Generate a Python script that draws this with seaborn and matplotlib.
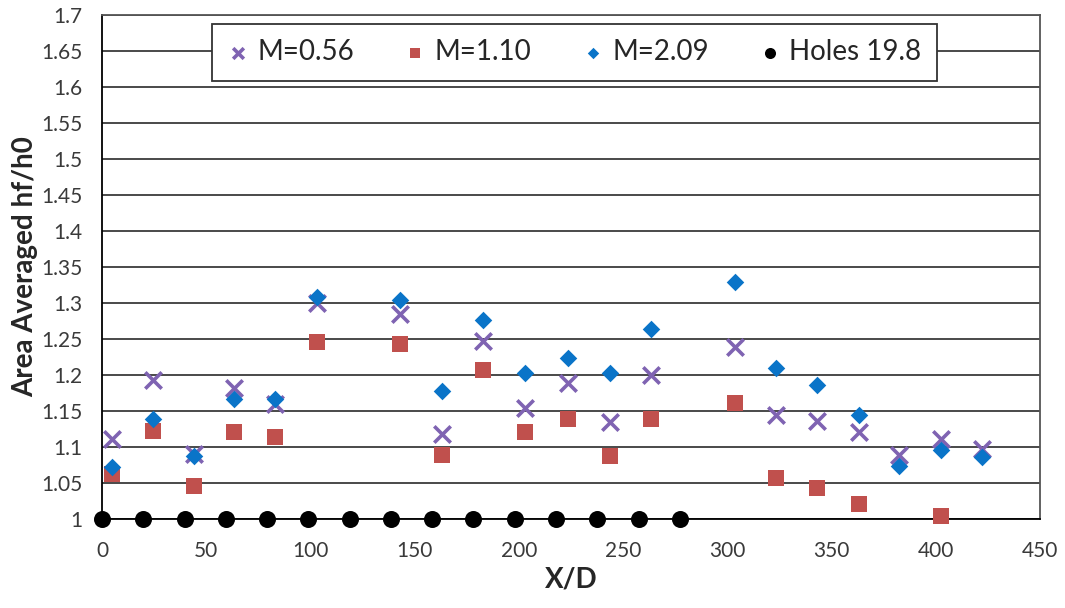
import matplotlib
matplotlib.use("Agg")
import matplotlib.pyplot as plt
import seaborn as sns
import pandas as pd

# Streamwise stations (X/D) of the measured rows
x_meas = [5, 24.6, 44, 63.5, 83, 103, 143, 163, 183, 203, 223.5, 243.5,
          263.5, 303.5, 323.5, 343, 363, 382.5, 402.5, 422]

# Area averaged hf/h0 for each blowing ratio (None where not measured)
m056 = [1.111, 1.192, 1.090, 1.182, 1.159, 1.300, 1.284, 1.118, 1.247, 1.154,
        1.189, 1.134, 1.199, 1.239, 1.144, 1.136, 1.120, 1.088, 1.111, 1.097]
m110 = [1.062, 1.122, 1.046, 1.121, 1.113, 1.245, 1.242, 1.089, 1.207, 1.121,
        1.138, 1.087, 1.139, 1.161, 1.057, 1.042, 1.020, None, 1.004, None]
m209 = [1.072, 1.139, 1.087, 1.166, 1.166, 1.308, 1.304, 1.177, 1.276, 1.202,
        1.223, 1.203, 1.263, 1.329, 1.209, 1.185, 1.144, 1.073, 1.095, 1.086]

# Film cooling hole rows, spaced 19.8 D apart
holes_x = [19.8 * i for i in range(15)]
holes_y = [1.0] * len(holes_x)

series_names = ["M=0.56", "M=1.10", "M=2.09", "Holes 19.8"]

sns.set_theme(style="white")
plt.rcParams["font.family"] = ["Lato", "DejaVu Sans"]

fig = plt.figure(figsize=(10.65, 6.08), dpi=100)
ax = fig.add_axes([0.0958, 0.1469, 0.8807, 0.8289])

df_a = pd.DataFrame({"x": x_meas, "y": m056})
df_b = pd.DataFrame({"x": x_meas, "y": m110}).dropna()
df_c = pd.DataFrame({"x": x_meas, "y": m209})
df_h = pd.DataFrame({"x": holes_x, "y": holes_y})

sns.scatterplot(data=df_h, x="x", y="y", ax=ax, marker="o", s=150,
                color="black", linewidth=0, label=series_names[3], zorder=5,
                clip_on=False)
sns.scatterplot(data=df_a, x="x", y="y", ax=ax, marker="x", s=140,
                color="#7F63B2", linewidth=2.6, label=series_names[0], zorder=4)
sns.scatterplot(data=df_b, x="x", y="y", ax=ax, marker="s", s=120,
                color="#C0504D", linewidth=0, label=series_names[1], zorder=3,
                clip_on=False)
sns.scatterplot(data=df_c, x="x", y="y", ax=ax, marker="D", s=80,
                color="#0A74C8", linewidth=0, label=series_names[2], zorder=4)

ax.set_xlim(0, 450)
ax.set_ylim(1.0, 1.7)
ax.set_xticks(range(0, 451, 50))
yt = [1 + 0.05 * i for i in range(15)]
ax.set_yticks(yt)
ax.set_yticklabels([f"{v:.2f}".rstrip("0").rstrip(".") for v in yt])
ax.yaxis.grid(True, color="#3a3a3a", linewidth=1.3)
ax.xaxis.grid(False)
ax.set_axisbelow(True)
for sp in ax.spines.values():
    sp.set_visible(True)
    sp.set_color("#555555")
    sp.set_linewidth(1.3)
ax.spines["left"].set_color("black")
ax.spines["bottom"].set_color("black")
ax.tick_params(axis="both", length=0, labelsize=15, colors="#3a3a3a")
ax.tick_params(axis="x", pad=16)
ax.tick_params(axis="y", pad=14)

ax.set_xlabel("X/D", fontsize=20, fontweight="bold", labelpad=4)
ax.set_ylabel("Area Averaged hf/h0", fontsize=20, fontweight="bold", labelpad=2)

handles, labels = ax.get_legend_handles_labels()
order = [labels.index(n) for n in series_names]
leg = ax.legend([handles[i] for i in order], [labels[i] for i in order],
                loc="upper center", bbox_to_anchor=(0.5035, 0.9816), ncol=4,
                fontsize=20, frameon=True, fancybox=False, framealpha=1,
                edgecolor="#333333", handlelength=0.8, handletextpad=0.3,
                columnspacing=1.8, borderpad=0.55, borderaxespad=0,
                markerscale=0.65)
leg.get_frame().set_linewidth(1.3)

fig.savefig("out.png", dpi=100, facecolor="white")
